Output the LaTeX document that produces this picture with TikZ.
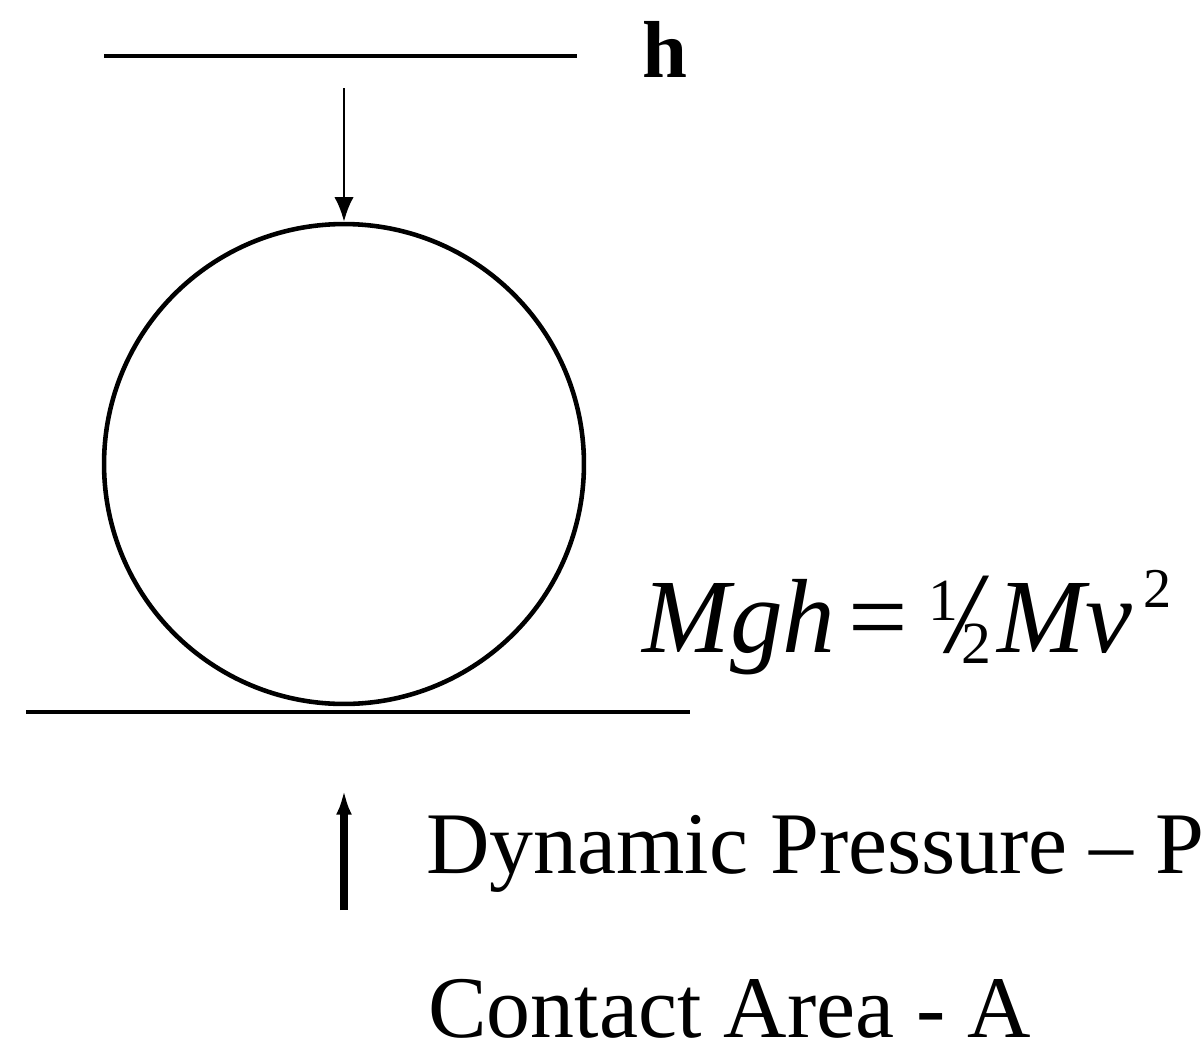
\documentclass[tikz,border=0pt]{standalone}
\usepackage{fontspec}
\setmainfont{Liberation Serif}
\usetikzlibrary{arrows.meta}
\tikzset{
  label text/.style={anchor=base west,inner sep=0pt},
}
\newcommand{\halfsym}{{\raisebox{0.30em}{\upshape\fontsize{34}{34}\selectfont 1}\kern-0.10em\fontsize{66}{70}\selectfont/\kern-0.16em\raisebox{-0.10em}{\upshape\fontsize{34}{34}\selectfont 2}}}
\begin{document}
\begin{tikzpicture}[x=0.02cm,y=-0.02cm]
  \useasboundingbox (0,0) rectangle (1204,1055);
  % Drop height
  \draw[line width=2.1pt] (104,56) -- (577,56);
  \node[label text,font=\fontsize{46}{50}\selectfont\bfseries] (height) at (642,77) {h};
  % Ball and its fall
  \node[draw,circle,line width=2.6pt,minimum size=9.6cm,inner sep=0pt] (ball) at (344,464) {};
  \coordinate (drop) at (344,88);
  \draw[-{Latex[length=14pt,width=11pt]},line width=1.6pt] (drop) -- (ball.north);
  % Ground
  \draw[line width=2.8pt] (26,712) -- (690,712);
  % Energy balance
  \node[label text,font=\fontsize{60}{70}\selectfont] (energy) at (642,652)
    {\itshape Mgh\kern0.12em{\upshape=}\kern0.2em\halfsym\kern0.06em Mv\kern0.10em\raisebox{0.42em}{\upshape\fontsize{32}{32}\selectfont 2}};
  % Impact
  \coordinate (base) at (344,910);
  \coordinate (tip) at (344,790);
  \draw[-{Latex[length=14pt,width=9pt]},line width=4.5pt] (base) -- (tip);
  \node[label text,font=\fontsize{50}{60}\selectfont] (pressure) at (426,873) {Dynamic Pressure – P};
  \node[label text,font=\fontsize{50}{60}\selectfont] (area) at (428,1037) {Contact Area - A};
\end{tikzpicture}
\end{document}
